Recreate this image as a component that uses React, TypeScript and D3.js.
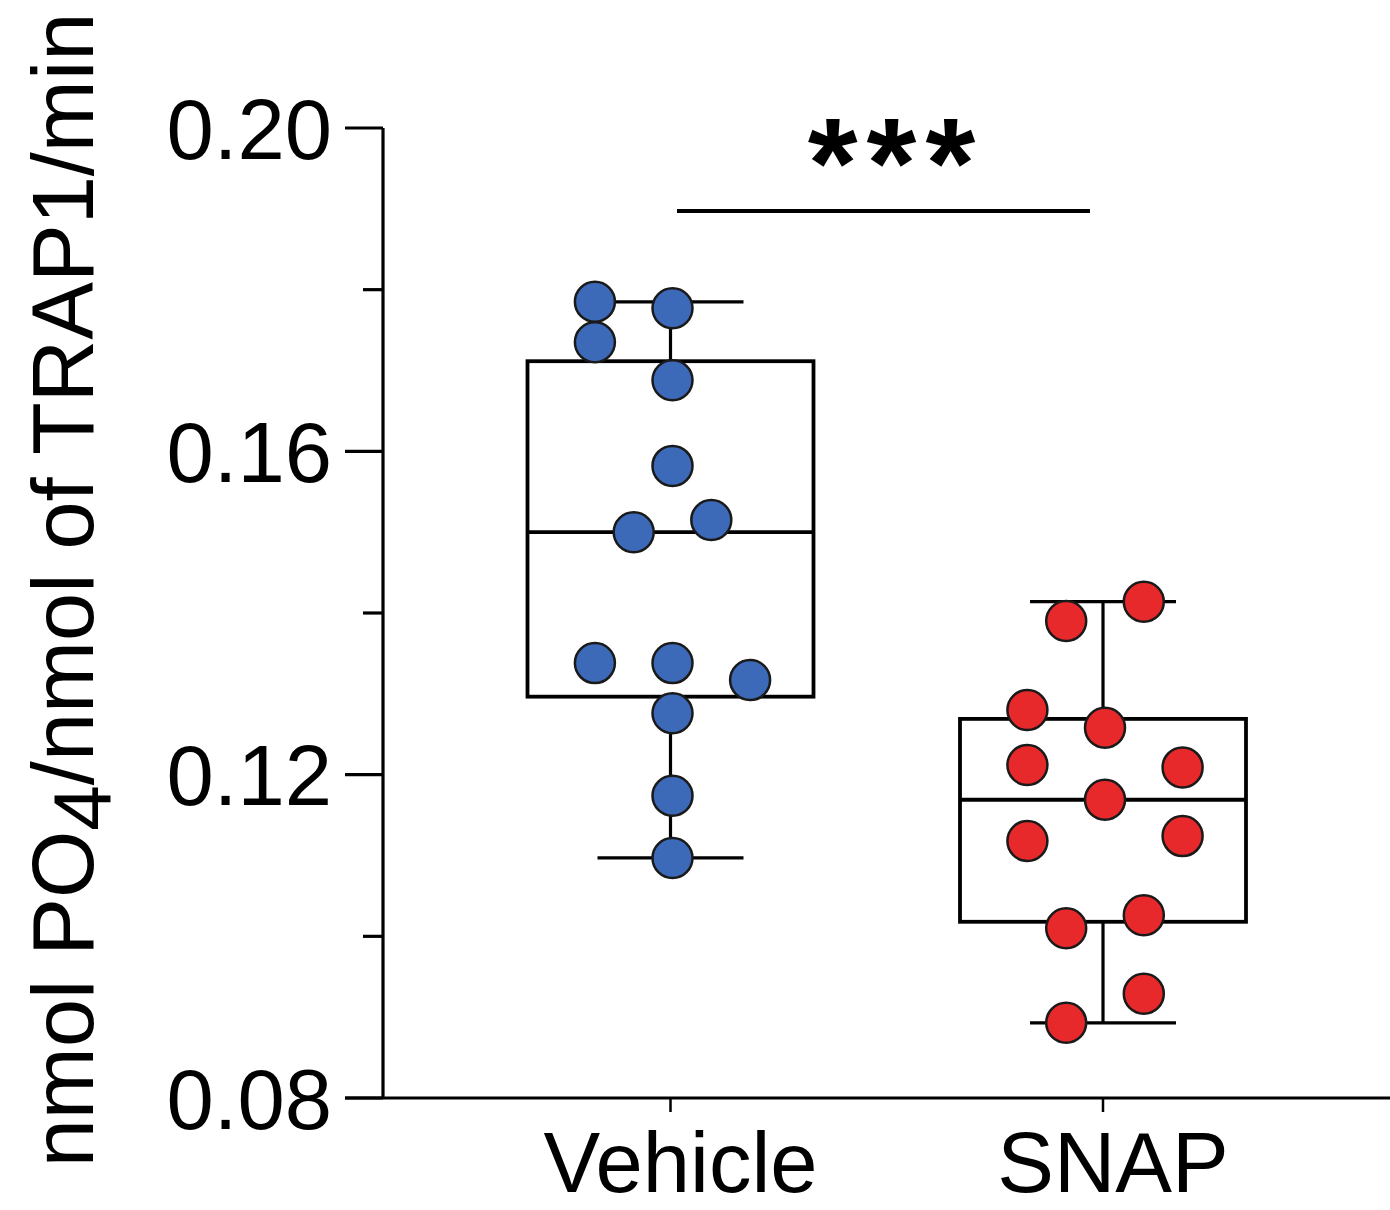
import React from "react";
import * as d3 from "d3";

const categories = ["Vehicle", "SNAP"];
const vehicleValues = [0.1785, 0.1777, 0.1735, 0.1688, 0.1582, 0.15, 0.1515, 0.1338, 0.1338, 0.1317, 0.1276, 0.1174, 0.1097];
const snapValues = [0.1414, 0.139, 0.128, 0.1258, 0.1212, 0.1209, 0.1169, 0.1118, 0.1124, 0.101, 0.1026, 0.0929, 0.0893];
// swarm column of each point (layout hint, same order as values)
const vehicleSlots = [-2, 0, -2, 0, 0, -1, 1, -2, 0, 2, 0, 0, 0];
const snapSlots = [1, -1, -2, 0, -2, 2, 0, -2, 2, -1, 1, 1, -1];
const majorTicks = [0.08, 0.12, 0.16, 0.2];
const minorTicks = [0.1, 0.14, 0.18];
const tickLabels = ["0.08", "0.12", "0.16", "0.20"];
const significance = "***";

const W = 1390;
const H = 1210;
const FONT = "'Liberation Sans', Arial, Helvetica, sans-serif";

function prismQuantile(vals: number[], p: number) {
  const s = [...vals].sort((a, b) => a - b);
  const n = s.length;
  const pos = (n + 1) * p; // 1-based
  const lo = Math.floor(pos);
  const frac = pos - lo;
  if (lo < 1) return s[0];
  if (lo >= n) return s[n - 1];
  return s[lo - 1] + frac * (s[lo] - s[lo - 1]);
}

export default function App() {
  const y = d3.scaleLinear().domain([0.08, 0.2]).range([1098, 128]);
  const x = d3.scalePoint<string>().domain(categories).range([670.5, 1103]);
  const axisX = 383;
  const slotW = 38.8;
  const boxHalf = 143;
  const capHalf = 73;
  const r = 20;

  const groups = [
    { name: "Vehicle", values: vehicleValues, slots: vehicleSlots, fill: "#3c6ab8" },
    { name: "SNAP", values: snapValues, slots: snapSlots, fill: "#e8292b" },
  ];

  return (
    <svg width={W} height={H} style={{ position: "absolute", left: 0, top: 0, background: "#fff" }}>
      {/* y axis */}
      <line x1={axisX} x2={axisX} y1={y(0.2)} y2={y(0.08)} stroke="#000" strokeWidth={3.2} />
      {majorTicks.map((t, i) => (
        <g key={"M" + t}>
          <line x1={axisX - 38} x2={axisX} y1={y(t)} y2={y(t)} stroke="#000" strokeWidth={3.2} />
          <text x={332} y={y(t)} dy="0.36em" textAnchor="end" fontFamily={FONT} fontSize={85} fill="#000">
            {tickLabels[i]}
          </text>
        </g>
      ))}
      {minorTicks.map((t) => (
        <line key={"m" + t} x1={axisX - 20} x2={axisX} y1={y(t)} y2={y(t)} stroke="#000" strokeWidth={3.2} />
      ))}
      {/* x axis */}
      <line x1={axisX - 38} x2={W} y1={y(0.08)} y2={y(0.08)} stroke="#000" strokeWidth={3.2} />
      {categories.map((c) => (
        <g key={c}>
          <line x1={x(c)!} x2={x(c)!} y1={y(0.08)} y2={y(0.08) + 14} stroke="#000" strokeWidth={2.5} />
          <text x={x(c)! + 10} y={1192} textAnchor="middle" fontFamily={FONT} fontSize={85} fill="#000">
            {c}
          </text>
        </g>
      ))}
      {/* y label */}
      <text
        transform={`translate(93, ${590}) rotate(-90)`}
        textAnchor="middle"
        fontFamily={FONT}
        fontSize={86.5}
        fill="#000"
      >
        nmol PO<tspan baselineShift="-22%" fontSize={82}>4</tspan>/nmol of TRAP1/min
      </text>
      {/* boxes */}
      {groups.map((g) => {
        const cx = x(g.name)!;
        const q1 = prismQuantile(g.values, 0.25);
        const med = prismQuantile(g.values, 0.5);
        const q3 = prismQuantile(g.values, 0.75);
        const mn = d3.min(g.values)!;
        const mx = d3.max(g.values)!;
        return (
          <g key={g.name}>
            <line x1={cx} x2={cx} y1={y(mx)} y2={y(q3)} stroke="#000" strokeWidth={3.2} />
            <line x1={cx} x2={cx} y1={y(q1)} y2={y(mn)} stroke="#000" strokeWidth={3.2} />
            <line x1={cx - capHalf} x2={cx + capHalf} y1={y(mx)} y2={y(mx)} stroke="#000" strokeWidth={3.2} />
            <line x1={cx - capHalf} x2={cx + capHalf} y1={y(mn)} y2={y(mn)} stroke="#000" strokeWidth={3.2} />
            <rect x={cx - boxHalf} y={y(q3)} width={boxHalf * 2} height={y(q1) - y(q3)} fill="none" stroke="#000" strokeWidth={3.8} />
            <line x1={cx - boxHalf} x2={cx + boxHalf} y1={y(med)} y2={y(med)} stroke="#000" strokeWidth={3.8} />
          </g>
        );
      })}
      {/* points */}
      {groups.map((g) =>
        g.values.map((v, i) => (
          <circle
            key={g.name + i}
            cx={x(g.name)! + 2 + g.slots[i] * slotW}
            cy={y(v)}
            r={r}
            fill={g.fill}
            stroke="#1a1a1a"
            strokeWidth={2.5}
          />
        ))
      )}
      {/* significance */}
      <line x1={677} x2={1090} y1={211} y2={211} stroke="#000" strokeWidth={4} />
      <text
        x={896}
        y={207}
        textAnchor="middle"
        fontFamily={FONT}
        fontWeight="bold"
        fontSize={128}
        letterSpacing={9}
        fill="#000"
      >
        {significance}
      </text>
    </svg>
  );
}
